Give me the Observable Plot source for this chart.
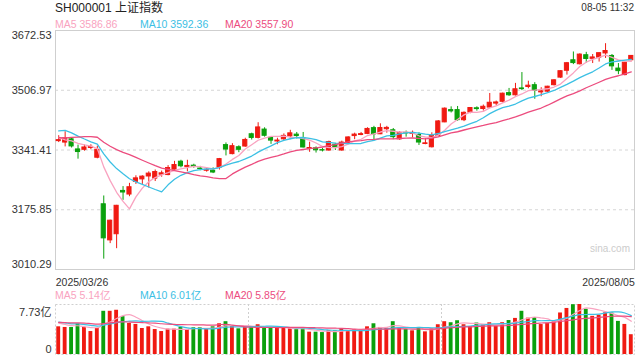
<!DOCTYPE html>
<html><head><meta charset="utf-8">
<script src="https://cdn.jsdelivr.net/npm/d3@7"></script>
<script src="https://cdn.jsdelivr.net/npm/@observablehq/plot@0.6"></script>
<style>
body{margin:0;background:#fff;}
#wrap{position:relative;width:640px;height:360px;overflow:hidden;font-family:"Liberation Sans",Arial,"Noto Sans CJK SC",sans-serif;color:#333;}
.t{position:absolute;white-space:nowrap;line-height:1;}
#wrap svg{position:absolute;left:0;}
</style></head><body><div id="wrap"></div>
<script>
// ---- data ----
const dates = [
"2025/03/26","2025/03/27","2025/03/28","2025/03/31",
"2025/04/01","2025/04/02","2025/04/03","2025/04/07","2025/04/08","2025/04/09","2025/04/10","2025/04/11","2025/04/14","2025/04/15","2025/04/16","2025/04/17","2025/04/18","2025/04/21","2025/04/22","2025/04/23","2025/04/24","2025/04/25","2025/04/28","2025/04/29","2025/04/30",
"2025/05/06","2025/05/07","2025/05/08","2025/05/09","2025/05/12","2025/05/13","2025/05/14","2025/05/15","2025/05/16","2025/05/19","2025/05/20","2025/05/21","2025/05/22","2025/05/23","2025/05/26","2025/05/27","2025/05/28","2025/05/29","2025/05/30",
"2025/06/03","2025/06/04","2025/06/05","2025/06/06","2025/06/09","2025/06/10","2025/06/11","2025/06/12","2025/06/13","2025/06/16","2025/06/17","2025/06/18","2025/06/19","2025/06/20","2025/06/23","2025/06/24","2025/06/25","2025/06/26","2025/06/27","2025/06/30",
"2025/07/01","2025/07/02","2025/07/03","2025/07/04","2025/07/07","2025/07/08","2025/07/09","2025/07/10","2025/07/11","2025/07/14","2025/07/15","2025/07/16","2025/07/17","2025/07/18","2025/07/21","2025/07/22","2025/07/23","2025/07/24","2025/07/25","2025/07/28","2025/07/29","2025/07/30","2025/07/31",
"2025/08/01","2025/08/04","2025/08/05"];
const open = [3366,3362,3371,3343,3342,3347,3320,3191,3091,3108,
 3228,3218,3253,3260,3268,3262,3273,3272,3287,3309,
 3294,3298,3290,3284,3284,3292,3355,3330,3349,3351,
 3385,3375,3398,3375,3365,3371,3379,3384,3374,3345,
 3346,3341,3340,3356,3340,3361,3380,3383,3386,3402,
 3385,3399,3396,3371,3389,3386,3383,3358,3349,3380,
 3418,3452,3452,3424,3445,3457,3455,3459,3470,3475,
 3499,3493,3512,3516,3521,3501,3503,3521,3542,3561,
 3590,3579,3604,3594,3597,3609,3602,3567,3549,3590];
const high = [3381,3392,3375,3355,3355,3356,3352,3214,3147,3188,
 3240,3249,3270,3270,3281,3286,3283,3298,3310,3313,
 3313,3302,3296,3292,3292,3318,3361,3359,3353,3374,
 3388,3417,3403,3378,3374,3386,3396,3390,3390,3363,
 3350,3346,3366,3360,3366,3378,3388,3390,3403,3407,
 3414,3407,3401,3392,3394,3394,3389,3373,3389,3423,
 3458,3461,3462,3447,3459,3461,3466,3498,3477,3499,
 3512,3526,3556,3532,3528,3514,3518,3536,3561,3584,
 3613,3608,3612,3606,3610,3636,3606,3581,3584,3603];
const low = [3362,3350,3347,3316,3338,3342,3317,3039,3082,3068,
 3202,3212,3246,3246,3236,3254,3266,3270,3285,3292,
 3281,3291,3284,3280,3276,3286,3325,3328,3334,3349,
 3369,3372,3377,3357,3356,3368,3370,3372,3347,3335,
 3333,3336,3338,3340,3338,3359,3370,3381,3384,3368,
 3384,3388,3370,3368,3377,3375,3354,3356,3347,3378,
 3417,3444,3421,3420,3442,3449,3449,3456,3464,3472,
 3490,3491,3506,3511,3482,3489,3500,3519,3540,3549,
 3578,3577,3582,3581,3585,3595,3562,3550,3547,3589];
const close = [3368.70,3373.75,3351.31,3335.75,3348.44,3350.13,3342.01,3096.58,3145.55,3186.81,
 3223.64,3238.23,3262.81,3267.66,3276.00,3280.34,3276.73,3291.43,3299.76,3296.36,
 3297.29,3295.06,3288.41,3286.65,3279.03,3316.11,3342.67,3352.00,3342.00,3369.24,
 3374.87,3403.95,3380.82,3367.46,3367.58,3380.48,3387.57,3380.19,3348.37,3346.84,
 3340.69,3339.93,3363.45,3347.49,3361.98,3376.20,3384.10,3385.36,3399.77,3384.82,
 3402.32,3402.66,3377.00,3388.81,3387.40,3388.81,3362.11,3359.90,3381.58,3420.57,
 3455.97,3448.45,3424.23,3444.43,3457.75,3454.79,3461.15,3472.32,3473.13,3497.48,
 3493.05,3509.68,3510.18,3519.65,3505.00,3503.78,3516.83,3534.48,3559.79,3581.86,
 3582.30,3605.73,3593.66,3597.94,3609.71,3615.72,3573.21,3559.95,3583.31,3602.11];
// volume, 亿
const volume = [4.28,4.18,4.18,4.75,4.18,3.55,4.02,6.68,6.68,6.84,
 5.85,4.80,4.65,4.02,4.28,3.86,3.55,3.92,3.92,4.18,
 3.86,4.13,4.13,3.92,4.28,4.75,5.07,4.33,3.97,4.23,
 4.33,4.60,4.23,4.02,4.02,4.02,4.02,3.86,3.97,3.45,
 3.45,3.39,3.66,3.66,3.97,3.71,3.81,3.76,4.28,4.75,
 4.18,4.07,5.07,4.07,3.86,3.66,4.18,3.50,3.92,4.60,
 5.07,4.91,5.22,4.60,4.33,4.86,4.54,4.91,4.33,4.91,
 5.25,5.58,6.68,5.62,5.72,4.63,4.83,5.05,6.42,7.12,
 7.70,7.73,7.00,5.90,6.07,6.45,6.42,5.12,4.65,3.06];
// sessions before the first visible day (feed the moving averages only)
const priorClose = [3388.06,3320.90,3316.93,3324.21,3341.96,3381.10,3372.55,3366.16,3379.83,3371.92,
 3358.73,3419.56,3426.43,3429.76,3426.43,3408.95,3364.83,3370.03,3369.98];
const priorVolume = [4.7,5.3,4.6,4.9,5.2,5.6,4.8,4.5,4.7,4.8,5.4,5.6,5.0,5.1,4.7,5.3,5.1,4.8,4.82];

const priceTicks = [3010.29, 3175.85, 3341.41, 3506.97, 3672.53];
const volTicks = [0, 7.73];
const maPeriods = [5, 10, 20];
const priceMA = ["3586.86", "3592.36", "3557.90"];
const volMA = ["5.14亿", "6.01亿", "5.85亿"];
const title = "SH000001 上证指数";
const stamp = "08-05 11:32";

// ---- styling ----
const RED = "#f01a12", GREEN = "#0aa00c";
const MA_COLORS = ["#f9a3c0", "#3cc0e4", "#ec4c7e"];
const FONT = '"Liberation Sans", Arial, "Noto Sans CJK SC", sans-serif';

const candles = dates.map((date, i) => ({i, date, open: open[i], high: high[i], low: low[i], close: close[i], volume: volume[i]}));
const up = d => d.close >= d.open;
const down = d => d.close < d.open;
const priceSeries = [...priorClose.map(v => ({i: NaN, v})), ...close.map((v, i) => ({i, v}))];
const volSeries = [...priorVolume.map(v => ({i: NaN, v})), ...volume.map((v, i) => ({i, v}))];
const xDomain = [-0.5, dates.length - 0.5];
const hw = 0.32;

const wrap = document.getElementById("wrap");
function addText(txt, css) {
  const el = document.createElement("div");
  el.className = "t"; el.textContent = txt;
  Object.assign(el.style, css);
  wrap.appendChild(el);
}

const main = Plot.plot({
  width: 640, height: 290, marginTop: 30, marginBottom: 21, marginLeft: 55, marginRight: 6,
  x: {domain: xDomain},
  y: {domain: [priceTicks[0], priceTicks[priceTicks.length - 1]]},
  style: {fontFamily: FONT, fontSize: "11px", color: "#333", background: "transparent", overflow: "visible"},
  marks: [
    Plot.ruleY(priceTicks.slice(1, -1), {stroke: "#d6d6d6", strokeDasharray: "3,3"}),
    Plot.frame({stroke: "#cfcfcf"}),
    Plot.ruleX(candles, {filter: up, x: "i", y1: "low", y2: "high", stroke: RED}),
    Plot.ruleX(candles, {filter: down, x: "i", y1: "low", y2: "high", stroke: GREEN}),
    Plot.rect(candles, {filter: up, x1: d => d.i - hw, x2: d => d.i + hw, y1: "open", y2: "close", fill: RED, stroke: RED}),
    Plot.rect(candles, {filter: down, x1: d => d.i - hw, x2: d => d.i + hw, y1: "open", y2: "close", fill: GREEN, stroke: GREEN}),
    ...maPeriods.map((k, j) => Plot.line(priceSeries, Plot.windowY({k, anchor: "end", reduce: "mean"}, {x: "i", y: "v", stroke: MA_COLORS[j], strokeWidth: 1.3}))),
    Plot.axisY(priceTicks.slice(1, -1), {tickSize: 0, tickPadding: 4, tickFormat: d => d.toFixed(2), fontSize: 11, label: null}),
    Plot.axisY([priceTicks[priceTicks.length - 1]], {tickSize: 0, tickPadding: 4, tickFormat: d => d.toFixed(2), fontSize: 11, dy: 4.5, label: null}),
    Plot.axisY([priceTicks[0]], {tickSize: 0, tickPadding: 4, tickFormat: d => d.toFixed(2), fontSize: 11, dy: -5, label: null}),
    Plot.axisX([0], {tickSize: 0, tickFormat: i => dates[i], textAnchor: "start", dx: -3, fontSize: 10.5, label: null}),
    Plot.axisX([dates.length - 1], {tickSize: 0, tickFormat: i => dates[i], textAnchor: "end", dx: 3.5, fontSize: 10.5, label: null})
  ]
});
main.style.top = "0px";
wrap.appendChild(main);

const third = (xDomain[1] - xDomain[0]) / 3;
const vol = Plot.plot({
  width: 640, height: 70, marginTop: 14, marginBottom: 6, marginLeft: 55, marginRight: 6,
  x: {domain: xDomain, axis: null},
  y: {domain: [volTicks[0], volTicks[volTicks.length - 1]]},
  style: {fontFamily: FONT, fontSize: "11px", color: "#333", background: "transparent", overflow: "visible"},
  marks: [
    Plot.frame({stroke: "#cfcfcf", strokeDasharray: "2,2"}),
    Plot.ruleX([xDomain[0] + third, xDomain[0] + 2 * third], {stroke: "#cfcfcf", strokeDasharray: "2,2"}),
    Plot.rect(candles, {filter: up, x1: d => d.i - 0.3, x2: d => d.i + 0.3, y1: 0, y2: "volume", fill: RED}),
    Plot.rect(candles, {filter: down, x1: d => d.i - 0.3, x2: d => d.i + 0.3, y1: 0, y2: "volume", fill: GREEN}),
    ...maPeriods.map((k, j) => Plot.line(volSeries, Plot.windowY({k, anchor: "end", reduce: "mean"}, {x: "i", y: "v", stroke: MA_COLORS[j], strokeWidth: 1.2, curve: "monotone-x"}))),
    Plot.axisY([volTicks[volTicks.length - 1]], {tickSize: 0, tickPadding: 4, tickFormat: d => d + "亿", fontSize: 11, dy: 8, label: null}),
    Plot.axisY([volTicks[0]], {tickSize: 0, tickPadding: 4, tickFormat: d => String(d), fontSize: 11, dy: -5.5, label: null})
  ]
});
vol.style.top = "290px";
wrap.appendChild(vol);

// ---- texts ----
addText(title, {left: "55px", top: "2px", fontSize: "12px", color: "#222"});
addText(stamp, {right: "6px", top: "3px", fontSize: "10px", color: "#333"});
const legX = [55, 140, 225];
maPeriods.forEach((k, j) => {
  addText(`MA${k} ${priceMA[j]}`, {left: legX[j] + "px", top: "19px", fontSize: "10.5px", color: MA_COLORS[j]});
  addText(`MA${k} ${volMA[j]}`, {left: legX[j] + "px", top: "290px", fontSize: "10.5px", color: MA_COLORS[j]});
});
addText("sina.com", {right: "10px", top: "244px", fontSize: "10px", color: "#cccccc"});
</script>
</body></html>
